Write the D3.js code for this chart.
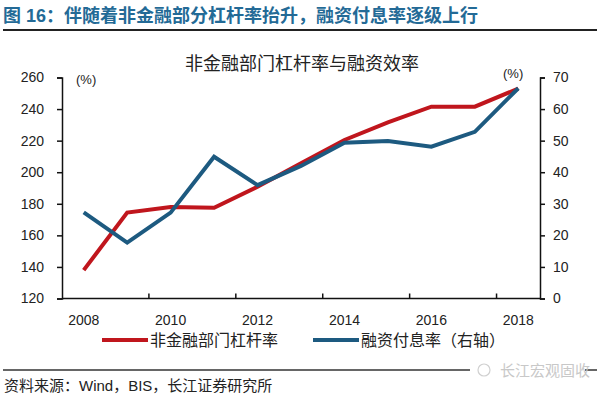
<!DOCTYPE html>
<html>
<head>
  <meta charset="utf-8">
  <title>非金融部门杠杆率与融资效率</title>
  <style type="text/css">
    body { margin: 0; background: white; }
    svg text { font-family: "Liberation Sans", "Noto Sans CJK SC", sans-serif; }
  </style>
  <script src="https://d3js.org/d3.v7.min.js"></script>
</head>
<body>
  <svg id="chart" width="600" height="399"></svg>
  <script>
    // data
    var years = ['2008', '2009', '2010', '2011', '2012', '2013', '2014', '2015', '2016', '2017', '2018'];
    var leverage = [138, 174.4, 178, 177.5, 190.8, 205.6, 220.4, 231.6, 241.5, 241.5, 253];
    var interestRate = [27.3, 17.7, 27.2, 44.9, 35.9, 42, 49.3, 49.9, 48.1, 52.8, 66.6];
    var leftTicks = [120, 140, 160, 180, 200, 220, 240, 260];
    var rightTicks = [0, 10, 20, 30, 40, 50, 60, 70];
    var yearLabels = ['2008', '2010', '2012', '2014', '2016', '2018'];

    var red = '#c0161d', blue = '#1d5a80';
    var plotL = 62, plotR = 540, plotT = 77.5, plotB = 298.5;

    var svg = d3.select('#chart');

    // page heading and rules
    svg.append('text')
      .attr('x', 3).attr('y', 22)
      .attr('font-size', 18).attr('font-weight', 'bold')
      .attr('fill', '#236a96')
      .text('图 16：伴随着非金融部分杠杆率抬升，融资付息率逐级上行');
    svg.append('line').attr('x1', 3).attr('x2', 597).attr('y1', 30).attr('y2', 30)
      .attr('stroke', '#222').attr('stroke-width', 2);

    svg.append('text')
      .attr('x', 302).attr('y', 70)
      .attr('text-anchor', 'middle').attr('font-size', 18).attr('fill', '#222')
      .text('非金融部门杠杆率与融资效率');

    var x = d3.scaleBand().domain(years).range([plotL, plotR]);
    var yL = d3.scaleLinear().domain([120, 260]).range([plotB, plotT]);
    var yR = d3.scaleLinear().domain([0, 70]).range([plotB, plotT]);

    // left axis
    var gl = svg.append('g').attr('transform', 'translate(' + plotL + ',0)')
      .call(d3.axisLeft(yL).tickValues(leftTicks).tickSize(5).tickPadding(13));
    // right axis
    var gr = svg.append('g').attr('transform', 'translate(' + plotR + ',0)')
      .call(d3.axisRight(yR).tickValues(rightTicks).tickSize(5).tickPadding(8));
    [gl, gr].forEach(function (g) {
      g.select('.domain').attr('stroke', '#111').attr('stroke-width', 1.5);
      g.selectAll('.tick line').attr('stroke', '#111').attr('stroke-width', 1.5);
      g.selectAll('.tick text').attr('font-size', 14).attr('fill', '#222')
        .style('font-family', '"Liberation Sans", sans-serif');
    });

    // bottom axis: ticks every two bands, labels on the years
    var gb = svg.append('g');
    gb.append('line').attr('x1', plotL).attr('x2', plotR).attr('y1', plotB).attr('y2', plotB)
      .attr('stroke', '#111').attr('stroke-width', 1.5);
    gb.selectAll('line.tk')
      .data(yearLabels.slice(1))
      .enter().append('line')
      .attr('class', 'tk')
      .attr('x1', function (d) { return x(d); })
      .attr('x2', function (d) { return x(d); })
      .attr('y1', plotB).attr('y2', plotB - 5)
      .attr('stroke', '#111').attr('stroke-width', 1.5);
    gb.selectAll('text.yr')
      .data(yearLabels)
      .enter().append('text')
      .attr('class', 'yr')
      .attr('x', function (d) { return x(d) + x.bandwidth() / 2; })
      .attr('y', 325)
      .attr('text-anchor', 'middle').attr('font-size', 14).attr('fill', '#222')
      .text(function (d) { return d; });

    // unit labels
    svg.append('text').attr('x', 76).attr('y', 84).attr('font-size', 13).attr('fill', '#222').text('(%)');
    svg.append('text').attr('x', 503).attr('y', 78).attr('font-size', 13).attr('fill', '#222').text('(%)');

    var cx = function (d, i) { return x(years[i]) + x.bandwidth() / 2; };
    svg.append('path')
      .datum(leverage)
      .attr('fill', 'none').attr('stroke', red).attr('stroke-width', 4)
      .attr('d', d3.line().x(cx).y(function (d) { return yL(d); }));
    svg.append('path')
      .datum(interestRate)
      .attr('fill', 'none').attr('stroke', blue).attr('stroke-width', 4)
      .attr('d', d3.line().x(cx).y(function (d) { return yR(d); }));

    // legend
    var legend = [
      { name: '非金融部门杠杆率', color: red, x: 102 },
      { name: '融资付息率（右轴）', color: blue, x: 313 }
    ];
    var lg = svg.selectAll('g.legend').data(legend).enter().append('g')
      .attr('class', 'legend')
      .attr('transform', function (d) { return 'translate(' + d.x + ',340)'; });
    lg.append('line').attr('x1', 0).attr('x2', 46).attr('y1', 0).attr('y2', 0)
      .attr('stroke', function (d) { return d.color; }).attr('stroke-width', 4);
    lg.append('text').attr('x', 48).attr('y', 6).attr('font-size', 16).attr('fill', '#222')
      .text(function (d) { return d.name; });

    // footer
    svg.append('line').attr('x1', 3).attr('x2', 597).attr('y1', 370).attr('y2', 370)
      .attr('stroke', '#333').attr('stroke-width', 1.5);
    svg.append('rect').attr('x', 470).attr('y', 362).attr('width', 115).attr('height', 16).attr('fill', 'white');
    svg.append('text').attr('x', 500).attr('y', 376).attr('font-size', 15).attr('fill', '#c8c8c8')
      .text('长江宏观固收');
    svg.append('circle').attr('cx', 484).attr('cy', 370).attr('r', 6)
      .attr('fill', 'none').attr('stroke', '#d0d0d0').attr('stroke-width', 1.2);
    svg.append('text').attr('x', 4).attr('y', 391).attr('font-size', 15).attr('fill', '#222')
      .text('资料来源：Wind，BIS，长江证券研究所');
  </script>
</body>
</html>
